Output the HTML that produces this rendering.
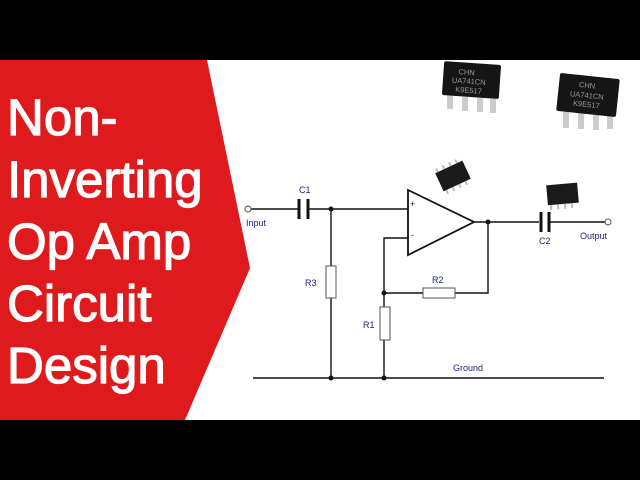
<!DOCTYPE html>
<html><head><meta charset="utf-8"><style>
html,body{margin:0;padding:0;background:#000;}
.wrap{position:relative;width:640px;height:480px;overflow:hidden;background:#000;}
svg{position:absolute;left:0;top:0;}
</style></head><body><div class="wrap">
<svg width="640" height="480" viewBox="0 0 640 480" xmlns="http://www.w3.org/2000/svg">
<rect x="0" y="60" width="640" height="360" fill="#fff"/>
<polygon points="0,60 207,60 250,268 185,420 0,420" fill="#df1a1c"/>
<g font-family="Liberation Sans, sans-serif" font-size="51" fill="#fff" stroke="#fff" stroke-width="1.2">
<text x="7" y="135">Non-</text>
<text x="7" y="197">Inverting</text>
<text x="7" y="259">Op Amp</text>
<text x="7" y="321">Circuit</text>
<text x="7" y="383">Design</text>
</g>
<g stroke="#111" stroke-width="1.4" fill="none">
<line x1="251" y1="209" x2="298" y2="209"/>
<line x1="309" y1="209" x2="408" y2="209"/>
<line x1="474" y1="222" x2="539" y2="222"/>
<line x1="550" y1="222" x2="605" y2="222"/>
<polyline points="408,238 384,238 384,378"/>
<polyline points="384,293 423,293"/>
<polyline points="455,293 488,293 488,222"/>
<line x1="331" y1="209" x2="331" y2="266"/>
<line x1="331" y1="298" x2="331" y2="378"/>
<line x1="253" y1="378" x2="604" y2="378" stroke-width="1.6"/>
<polygon points="408,190 408,255 474,222" stroke-width="1.8"/>
</g>
<g stroke="#111" stroke-width="3">
<line x1="299" y1="199" x2="299" y2="219"/>
<line x1="308" y1="199" x2="308" y2="219"/>
<line x1="541" y1="212" x2="541" y2="232"/>
<line x1="549" y1="212" x2="549" y2="232"/>
</g>
<g stroke="#555" stroke-width="1" fill="#fff">
<rect x="326" y="266" width="10" height="32"/>
<rect x="380" y="307" width="10" height="33"/>
<rect x="423" y="288" width="32" height="10"/>
<circle cx="248" cy="209" r="3"/>
<circle cx="608" cy="222" r="3"/>
</g>
<g fill="#111">
<circle cx="331" cy="209" r="2.5"/><circle cx="488" cy="222" r="2.5"/>
<circle cx="384" cy="293" r="2.5"/><circle cx="331" cy="378" r="2.5"/><circle cx="384" cy="378" r="2.5"/>
</g>
<g font-family="Liberation Sans, sans-serif" font-size="9" fill="#1a237e">
<text x="246" y="226">Input</text>
<text x="299" y="193">C1</text>
<text x="539" y="244">C2</text>
<text x="580" y="239">Output</text>
<text x="305" y="286">R3</text>
<text x="363" y="328">R1</text>
<text x="432" y="283">R2</text>
<text x="453" y="371">Ground</text>
<text x="410" y="207" fill="#111">+</text>
<text x="411" y="238" fill="#111">-</text>
</g>
<g fill="#ccc">
<rect x="447" y="95" width="6" height="14"/><rect x="462" y="97" width="6" height="14"/><rect x="477" y="98" width="6" height="14"/><rect x="490" y="99" width="6" height="14"/>
<rect x="563" y="112" width="6" height="16"/><rect x="578" y="113" width="6" height="16"/><rect x="593" y="114" width="6" height="16"/><rect x="607" y="115" width="6" height="14"/>
</g>
<g transform="rotate(4 471 80)"><rect x="443" y="63" width="57" height="34" fill="#151515" rx="2"/></g>
<g transform="rotate(6 588 95)"><rect x="558" y="76" width="60" height="38" fill="#151515" rx="2"/></g>
<g font-family="Liberation Sans, sans-serif" font-size="7.5" fill="#999">
<text x="458" y="75" transform="rotate(4 471 80)">CHN</text>
<text x="452" y="84" transform="rotate(4 471 80)">UA741CN</text>
<text x="456" y="93" transform="rotate(4 471 80)">K9E517</text>
<text x="578" y="88" transform="rotate(6 588 95)">CHN</text>
<text x="570" y="98" transform="rotate(6 588 95)">UA741CN</text>
<text x="574" y="107" transform="rotate(6 588 95)">K9E517</text>
</g>
<g transform="rotate(-25 453 176)">
<rect x="438" y="166" width="30" height="20" fill="#1a1a1a"/>
<g fill="#bbb"><rect x="440" y="186" width="2" height="4"/><rect x="447" y="186" width="2" height="4"/><rect x="454" y="186" width="2" height="4"/><rect x="461" y="186" width="2" height="4"/>
<rect x="440" y="162" width="2" height="4"/><rect x="447" y="162" width="2" height="4"/><rect x="454" y="162" width="2" height="4"/><rect x="461" y="162" width="2" height="4"/></g>
</g>
<g transform="rotate(-5 562 194)">
<rect x="547" y="184" width="31" height="20" fill="#1a1a1a"/>
<g fill="#bbb"><rect x="549" y="204" width="2" height="5"/><rect x="556" y="204" width="2" height="5"/><rect x="563" y="204" width="2" height="5"/><rect x="570" y="204" width="2" height="5"/></g>
</g>
</svg>
</div></body></html>
